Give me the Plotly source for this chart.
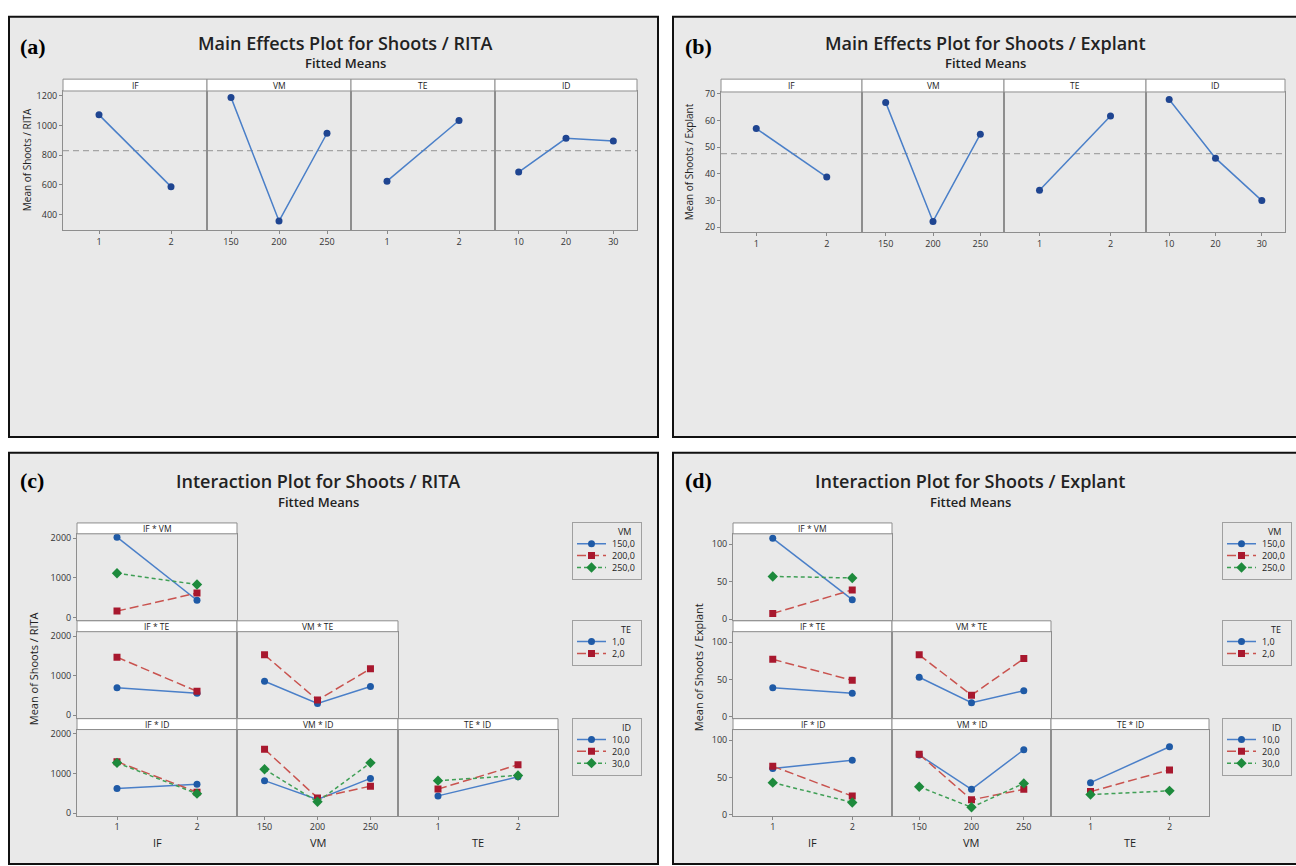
import plotly.graph_objects as go

# ---------------- data ----------------
IF_levels = [1, 2]
VM_levels = [150, 200, 250]
TE_levels = [1, 2]
ID_levels = [10, 20, 30]

# (a) Main effects plot, Shoots / RITA (fitted means)
rita_main_IF = [1072, 588]
rita_main_VM = [1190, 356, 948]
rita_main_TE = [625, 1034]
rita_main_ID = [686, 914, 896]
rita_grand_mean = 831

# (b) Main effects plot, Shoots / Explant
expl_main_IF = [57.0, 38.8]
expl_main_VM = [66.8, 22.2, 54.9]
expl_main_TE = [33.9, 61.7]
expl_main_ID = [67.9, 45.9, 30.0]
expl_grand_mean = 47.6

# (c) Interaction plot, Shoots / RITA  (one list per trace level, values along the x factor levels)
rita_IF_VM = [[2025, 433], [160, 615], [1115, 830]]        # VM 150 / 200 / 250
rita_IF_TE = [[692, 555], [1467, 605]]                     # TE 1 / 2
rita_VM_TE = [[858, 300, 725], [1525, 383, 1175]]          # TE 1 / 2
rita_IF_ID = [[623, 730], [1300, 530], [1270, 492]]        # ID 10 / 20 / 30
rita_VM_ID = [[820, 345, 877], [1615, 385, 682], [1107, 287, 1270]]
rita_TE_ID = [[436, 918], [607, 1221], [820, 951]]

# (d) Interaction plot, Shoots / Explant
expl_IF_VM = [[108, 26], [7.5, 39], [57, 55]]
expl_IF_TE = [[39, 31.5], [77, 49]]
expl_VM_TE = [[53, 19, 35], [83, 29, 78]]
expl_IF_ID = [[62, 73], [65, 25], [43, 16.5]]
expl_VM_ID = [[80, 34, 87], [81, 20, 34], [37.5, 10, 42]]
expl_TE_ID = [[43, 91], [31, 60], [27, 32]]

VM_legend = ["150,0", "200,0", "250,0"]
TE_legend = ["1,0", "2,0"]
ID_legend = ["10,0", "20,0", "30,0"]

# ---------------- helpers ----------------
W, H = 1296, 866
FONT = "Open Sans"
TXT = "#222222"
BORDER = "#8e8e8e"


def fx(x):
    return x / W


def fy(y):
    return 1 - y / H


fig = go.Figure()
lay = {}
shapes = []
annots = []
n_ax = [0]


def add_axes(xpix, ypix, xrange, yrange, xtv=None, ytv=None, xlabels=False, ylabels=False,
             xticks=False, yticks=False, border=BORDER):
    n_ax[0] += 1
    n = n_ax[0]
    s = "" if n == 1 else str(n)
    tf = dict(family=FONT, size=9, color="#333333")
    lay["xaxis" + s] = dict(domain=[fx(xpix[0]), fx(xpix[1])], range=xrange, anchor="y" + s,
                            showgrid=False, zeroline=False, showline=True, mirror=True,
                            linecolor=border, linewidth=1,
                            tickvals=xtv if xtv is not None else [],
                            ticktext=[str(v) for v in xtv] if xtv is not None else [],
                            showticklabels=xlabels, ticks="outside" if xticks else "",
                            ticklen=3, tickcolor="#888888", tickfont=tf, fixedrange=True)
    lay["yaxis" + s] = dict(domain=[fy(ypix[1]), fy(ypix[0])], range=yrange, anchor="x" + s,
                            showgrid=False, zeroline=False, showline=True, mirror=True,
                            linecolor=border, linewidth=1,
                            tickvals=ytv if ytv is not None else [],
                            showticklabels=ylabels, ticks="outside" if yticks else "",
                            ticklen=3, tickcolor="#888888", tickfont=tf, fixedrange=True)
    return "x" + s, "y" + s


def strip(x0, x1, y0, y1, text):
    shapes.append(dict(type="rect", xref="paper", yref="paper", x0=fx(x0), x1=fx(x1), y0=fy(y1), y1=fy(y0),
                       fillcolor="white", line=dict(color=BORDER, width=1), layer="above"))
    annots.append(dict(text=text, xref="paper", yref="paper", x=fx((x0 + x1) / 2), y=fy((y0 + y1) / 2),
                       showarrow=False, xanchor="center", yanchor="middle",
                       font=dict(family=FONT, size=8.5, color="#1a1a1a")))


def text(x, y, s, size, bold=False, family=FONT, anchor="center", angle=0, weight=None, color=TXT):
    f = dict(family=family, size=size, color=color)
    if weight:
        f["weight"] = weight
    annots.append(dict(text=("<b>%s</b>" % s) if bold else s, xref="paper", yref="paper", x=fx(x), y=fy(y),
                       showarrow=False, xanchor=anchor, yanchor="middle", textangle=angle, font=f))


def panel(x0, y0, x1, y1):
    shapes.append(dict(type="rect", xref="paper", yref="paper", x0=fx(x0), x1=fx(x1), y0=fy(y1), y1=fy(y0),
                       fillcolor="#e9e9e9", line=dict(color="#111111", width=2), layer="below"))


MAIN_LINE = dict(color="#4a7fc8", width=1.5)
MAIN_MARK = dict(color="#1f4591", size=7, symbol="circle")

STY = [
    dict(line=dict(color="#4a7fc8", width=1.5, dash="solid"),
         marker=dict(symbol="circle", color="#1f5aa6", size=7)),
    dict(line=dict(color="#c9534f", width=1.5, dash="9px,4px"),
         marker=dict(symbol="square", color="#a8182e", size=7)),
    dict(line=dict(color="#3f9f55", width=1.5, dash="4px,3px"),
         marker=dict(symbol="diamond", color="#1d8a3c", size=8)),
]

FACTORS = ["IF", "VM", "TE", "ID"]
LEVELS = [IF_levels, VM_levels, TE_levels, ID_levels]
XR = [[0.5, 2.5], [125, 275], [0.5, 2.5], [5, 35]]


def main_effects(cols, plot_y, strip_y, yrange, ytv, series, grand_mean):
    for i, (c0, c1) in enumerate(cols):
        xa, ya = add_axes((c0, c1), plot_y, XR[i], yrange, xtv=LEVELS[i], ytv=ytv,
                          xlabels=True, xticks=True, ylabels=(i == 0), yticks=(i == 0))
        strip(c0, c1, strip_y[0], strip_y[1], FACTORS[i])
        shapes.append(dict(type="line", xref=xa + " domain", x0=0, x1=1, yref=ya, y0=grand_mean, y1=grand_mean,
                           line=dict(color="#a5a5a5", width=1.2, dash="6px,4px"), layer="below"))
        fig.add_trace(go.Scatter(x=LEVELS[i], y=series[i], xaxis=xa, yaxis=ya, mode="lines+markers",
                                 line=MAIN_LINE, marker=MAIN_MARK, showlegend=False, hoverinfo="skip"))


def interaction(cols, rows, yrange, ytv, grid):
    xf = ["IF", "VM", "TE"]
    xl = [IF_levels, VM_levels, TE_levels]
    xr = [[0.5, 2.5], [124, 276], [0.5, 2.5]]
    tf = ["VM", "TE", "ID"]
    for r in range(3):
        for c in range(r + 1):
            xa, ya = add_axes(cols[c], rows[r][1], xr[c], yrange, xtv=xl[c], ytv=ytv,
                              xlabels=(r == 2), xticks=(r == 2), ylabels=(c == 0), yticks=(c == 0))
            strip(cols[c][0], cols[c][1], rows[r][0][0], rows[r][0][1], "%s * %s" % (xf[c], tf[r]))
            for k, ys in enumerate(grid[r][c]):
                fig.add_trace(go.Scatter(x=xl[c], y=ys, xaxis=xa, yaxis=ya, mode="lines+markers",
                                         line=STY[k]["line"], marker=STY[k]["marker"],
                                         showlegend=False, hoverinfo="skip"))


def legend_box(x0, y0, title, labels):
    bw = 68
    bh = 21 + 12 * len(labels)
    xa, ya = add_axes((x0, x0 + bw), (y0, y0 + bh), [0, bw], [bh, 0], border="#a0a0a0")
    annots.append(dict(text=title, xref=xa, yref=ya, x=bw - 8, y=9, showarrow=False, xanchor="right",
                       yanchor="middle", font=dict(family=FONT, size=9, color=TXT)))
    for k, lab in enumerate(labels):
        yy = 21 + 12 * k
        fig.add_trace(go.Scatter(x=[4, 33], y=[yy, yy], xaxis=xa, yaxis=ya, mode="lines",
                                 line=STY[k]["line"], showlegend=False, hoverinfo="skip"))
        fig.add_trace(go.Scatter(x=[18.5], y=[yy], xaxis=xa, yaxis=ya, mode="markers",
                                 marker=STY[k]["marker"], showlegend=False, hoverinfo="skip"))
        annots.append(dict(text=lab, xref=xa, yref=ya, x=37, y=yy, showarrow=False, xanchor="left",
                           yanchor="middle", font=dict(family=FONT, size=9, color=TXT)))


# ---------------- panels ----------------
panel(9, 12, 658, 437)
panel(673, 12, 1298, 437)
panel(9, 453, 658, 869)
panel(673, 453, 1298, 869)

# (a)
text(18, 42, "(a)", 22, bold=True, family="Liberation Serif", anchor="left", color="#000000")
text(345, 38, "Main Effects Plot for Shoots / RITA", 18, weight=600)
text(345, 59, "Fitted Means", 13, weight=600)
main_effects([(63, 207), (207, 351), (351, 495), (495, 637)], (87, 228), (75, 87),
             [293, 1233], [400, 600, 800, 1000, 1200],
             [rita_main_IF, rita_main_VM, rita_main_TE, rita_main_ID], rita_grand_mean)
text(27, 157, "Mean of Shoots / RITA", 10, angle=-90)

# (b)
text(683, 42, "(b)", 22, bold=True, family="Liberation Serif", anchor="left", color="#000000")
text(985, 38, "Main Effects Plot for Shoots / Explant", 18, weight=600)
text(985, 59, "Fitted Means", 13, weight=600)
main_effects([(721, 862), (862, 1004), (1004, 1146), (1146, 1285)], (88, 230), (75, 88),
             [18.1, 70.7], [20, 30, 40, 50, 60, 70],
             [expl_main_IF, expl_main_VM, expl_main_TE, expl_main_ID], expl_grand_mean)
text(689, 159, "Mean of Shoots / Explant", 10, angle=-90)

ROWS = [((524, 535), (535, 622)), ((623, 634), (634, 721)), ((722, 733), (733, 820))]

# (c)
text(18, 481, "(c)", 22, bold=True, family="Liberation Serif", anchor="left", color="#000000")
text(318, 482, "Interaction Plot for Shoots / RITA", 18, weight=600)
text(318, 503, "Fitted Means", 13, weight=600)
interaction([(77, 237), (237, 398), (398, 558)], ROWS, [-60, 2110], [0, 1000, 2000],
            [[rita_IF_VM], [rita_IF_TE, rita_VM_TE], [rita_IF_ID, rita_VM_ID, rita_TE_ID]])
text(33, 672, "Mean of Shoots / RITA", 11, angle=-90)
text(157, 847, "IF", 11)
text(318, 847, "VM", 11)
text(478, 847, "TE", 11)
legend_box(573, 524, "VM", VM_legend)
legend_box(573, 623, "TE", TE_legend)
legend_box(573, 722, "ID", ID_legend)

# (d)
text(683, 481, "(d)", 22, bold=True, family="Liberation Serif", anchor="left", color="#000000")
text(970, 482, "Interaction Plot for Shoots / Explant", 18, weight=600)
text(970, 503, "Fitted Means", 13, weight=600)
interaction([(733, 892), (892, 1051), (1051, 1209)], ROWS, [-1, 114], [0, 50, 100],
            [[expl_IF_VM], [expl_IF_TE, expl_VM_TE], [expl_IF_ID, expl_VM_ID, expl_TE_ID]])
text(698, 670, "Mean of Shoots / Explant", 11, angle=-90)
text(813, 847, "IF", 11)
text(971, 847, "VM", 11)
text(1130, 847, "TE", 11)
legend_box(1223, 524, "VM", VM_legend)
legend_box(1223, 623, "TE", TE_legend)
legend_box(1223, 722, "ID", ID_legend)

fig.update_layout(width=W, height=H, margin=dict(l=0, r=0, t=0, b=0), paper_bgcolor="white",
                  plot_bgcolor="white", showlegend=False, shapes=shapes, annotations=annots, **lay)
fig.write_html("out.html", config={"displayModeBar": False},
               post_script="document.body.style.margin='0';")
